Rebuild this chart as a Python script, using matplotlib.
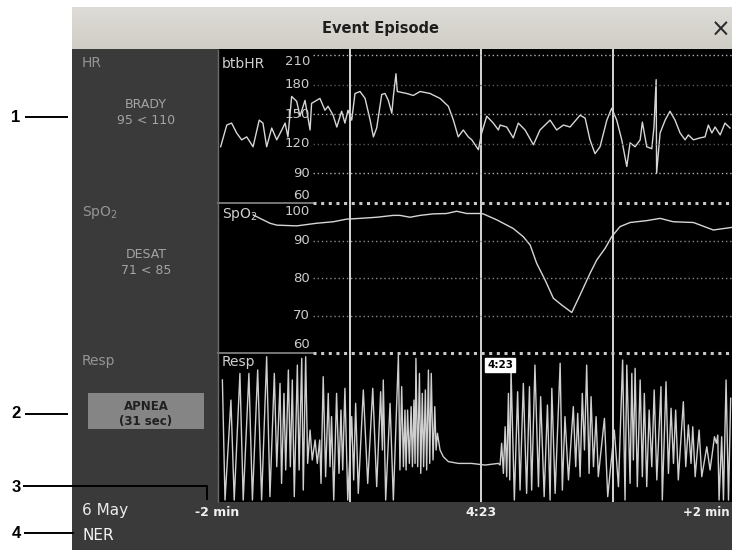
import matplotlib
matplotlib.use("Agg")
import matplotlib.pyplot as plt
from matplotlib.patches import Rectangle
from matplotlib.lines import Line2D
import matplotlib.transforms as mtransforms
import numpy as np

# ---------------- data ----------------
hr_t = [-118.8, -116.0, -113.8, -111.5, -109.2, -106.9, -104.0, -101.2, -99.5, -97.8,
        -95.5, -93.2, -90.9, -89.4, -88.1, -86.4, -84.1, -82.6, -80.3, -78.0,
        -77.3, -73.5, -71.2, -69.8, -67.5, -65.8, -63.6, -62.1, -60.7, -59.0,
        -57.5, -55.2, -52.9, -50.6, -49.1, -47.6, -45.3, -43.8, -42.3, -40.7,
        -40.0, -38.8, -38.2, -33.9, -30.9, -27.8, -23.3, -18.7, -14.9, -12.6,
        -10.4, -8.1, -5.8, -4.2, -1.2, 0.3, 2.6, 5.6, 7.9, 8.7,
        11.7, 14.7, 17.0, 20.1, 23.9, 26.9, 31.5, 34.5, 37.6, 40.6,
        45.2, 47.5, 49.7, 52.0, 54.3, 57.4, 59.6, 61.9, 64.2, 66.5,
        68.0, 70.3, 72.6, 73.6, 75.6, 77.9, 78.9, 79.9, 80.1, 81.7,
        84.0, 86.2, 88.5, 90.8, 93.1, 94.6, 96.9, 99.9, 102.2, 103.7,
        105.3, 106.8, 109.1, 111.3, 113.6]
hr_v = [117, 139, 141, 131, 124, 127, 117, 144, 141, 117,
        136, 124, 134, 141, 127, 168, 163, 148, 164, 134,
        161, 166, 154, 158, 149, 137, 153, 141, 154, 144,
        171, 173, 166, 144, 127, 136, 170, 171, 164, 151,
        168, 191, 173, 171, 169, 173, 171, 166, 158, 144,
        127, 134, 127, 124, 114, 131, 148, 141, 134, 139,
        137, 126, 141, 134, 119, 134, 144, 134, 139, 137,
        149, 146, 124, 110, 117, 144, 156, 144, 124, 97,
        121, 117, 124, 142, 117, 115, 137, 185, 90, 131,
        144, 153, 144, 131, 124, 129, 124, 126, 127, 139,
        131, 137, 129, 141, 136]

spo2_t = [-103.9, -100.8, -96.3, -93.2, -84.1, -75.0, -67.4, -61.3, -55.2, -47.6,
          -40.0, -37.0, -32.4, -27.8, -21.8, -15.7, -11.1, -6.5, -0.5, 1.0,
          7.2, 14.7, 19.3, 22.4, 25.4, 29.2, 33.0, 36.8, 41.4, 45.2,
          49.7, 52.8, 56.6, 59.6, 63.4, 68.0, 75.6, 81.7, 87.7, 96.9,
          106.0, 114.5]
spo2_v = [96.8, 95.9, 94.6, 94.1, 93.9, 94.6, 95.0, 95.7, 95.9, 96.2,
          96.7, 96.7, 96.2, 96.7, 97.1, 97.2, 97.8, 97.2, 97.2, 97.1,
          95.5, 93.2, 91.0, 88.8, 83.9, 79.5, 74.6, 72.8, 70.8, 75.5,
          81.2, 84.8, 87.9, 91.0, 93.7, 94.8, 95.3, 95.9, 95.0, 94.8,
          92.8, 93.5]

resp_t = [-118.0, -116.8, -114.1, -112.6, -110.0, -108.5, -105.9, -104.3, -101.9, -100.1,
          -97.8, -96.3, -94.3, -93.2, -91.7, -91.0, -89.9, -89.1, -87.9, -87.0,
          -86.1, -85.2, -83.8, -83.0, -81.8, -81.1, -80.0, -79.1, -78.0, -77.0,
          -75.7, -74.7, -73.6, -73.0, -72.0, -70.9, -69.7, -68.9, -68.2, -67.2,
          -65.9, -64.8, -63.9, -63.1, -62.1, -60.8, -59.0, -58.1, -57.2, -56.0,
          -53.7, -51.7, -49.4, -47.6, -45.8, -45.0, -44.6, -43.5,
          -41.5, -40.0, -37.7, -37.0, -36.2, -35.4, -34.7, -34.2, -33.5, -32.7,
          -31.9, -31.3, -30.6, -30.1, -29.7, -28.9, -28.1, -27.5, -26.8, -26.2,
          -25.4, -24.8, -24.0, -23.4, -22.7, -21.9, -21.1, -20.5, -19.9, -18.7,
          -17.2, -14.9, -10.3, -4.3, 1.8, 7.9, 8.7, 9.4, 10.2, 11.0,
          11.7, 12.5, 13.1, 13.7, 15.2, 16.7, 17.8, 19.3, 20.8, 22.1,
          23.1, 24.6, 26.2, 27.2, 28.8, 30.3, 31.5, 32.3, 33.8,
          36.1, 37.1, 38.3, 39.9, 42.1, 43.2, 44.1, 45.2, 46.2, 47.2,
          48.2, 49.3, 50.2, 51.3, 52.5, 53.5, 56.3, 57.8, 60.8, 62.7,
          64.6, 65.7, 66.5, 68.0, 68.8, 69.5, 70.3, 71.3, 72.6, 73.6,
          74.5, 75.6, 76.7, 77.9, 79.0, 80.2, 82.1, 82.7, 84.4, 85.5,
          86.7, 87.8, 88.8, 90.0, 92.3, 93.4, 94.6, 95.8, 96.6, 97.7,
          99.5, 100.7, 103.0, 104.5, 106.5, 107.4, 108.0, 108.6, 109.8, 110.6,
          111.8, 112.9, 113.9]
resp_v = [81.9, 1.3, 68.4, 1.3, 86.3, 1.3, 86.3, 1.3, 88.6, 1.3,
          97.5, 3.6, 86.3, 23.7, 79.6, 12.5, 72.9, 21.5, 88.6, 23.7,
          81.9, 3.6, 91.9, 21.5, 96.4, 8.0, 97.5, 25.9, 48.3, 28.2,
          41.6, 25.9, 41.6, 12.5, 84.1, 17.0, 72.9, 23.7, 57.3, 1.3,
          72.9, 19.2, 61.7, 21.5, 76.3, 1.3, 57.3, 14.8, 66.2, 5.8,
          75.2, 12.5, 76.3, 10.3, 74.0, 34.9, 81.9, 1.3,
          66.2, 1.3, 98.6, 21.5, 77.4, 23.7, 61.7, 21.5, 61.7, 25.9,
          64.0, 23.7, 68.4, 25.9, 96.4, 23.7, 86.3, 19.2, 72.9, 23.7,
          75.2, 21.5, 88.6, 25.9, 86.3, 28.2, 64.0, 34.9, 46.1, 34.9,
          30.4, 27.1, 25.9, 25.9, 24.8, 25.9, 24.8, 39.4, 19.2, 50.5,
          17.0, 72.9, 14.8, 88.6, 1.3, 74.0, 8.0, 79.6, 5.8, 77.4,
          8.0, 91.9, 10.3, 70.7, 3.6, 65.1, 1.3, 76.3, 5.8,
          93.1, 8.0, 57.3, 14.8, 64.0, 23.7, 59.5, 17.0, 72.9, 34.9,
          91.9, 19.2, 70.7, 23.7, 57.3, 17.0, 56.1, 3.6, 48.3, 10.3,
          95.3, 1.3, 91.9, 12.5, 86.3, 28.2, 89.7, 10.3, 81.9, 17.0,
          72.9, 10.3, 61.7, 23.7, 75.2, 14.8, 77.4, 1.3, 80.7, 19.2,
          62.9, 25.9, 61.7, 14.8, 67.3, 23.7, 51.7, 25.9, 50.5, 17.0,
          48.3, 17.0, 37.1, 21.5, 43.8, 39.4, 44.9, 1.3, 43.8, 1.3,
          81.9, 1.3, 69.6]

hr_ticks = [210, 180, 150, 120, 90, 60]
spo2_ticks = [100, 90, 80, 70, 60]
marker_t = [-60, 0, 60]
time_labels = ["-2 min", "4:23", "+2 min"]

# ---------------- layout helpers ----------------
W, H = 732, 550
fig = plt.figure(figsize=(W / 100, H / 100), dpi=100, facecolor="white")


def fx(x):
    return x / W


def fy(y):
    return 1 - y / H


def rect(x0, y0, x1, y1, color, z=-10):
    fig.add_artist(Rectangle((fx(x0), fy(y1)), (x1 - x0) / W, (y1 - y0) / H,
                             transform=fig.transFigure, facecolor=color,
                             edgecolor="none", zorder=z))


def fline(xs, ys, color="black", lw=1.2, z=5, ls="-"):
    fig.add_artist(Line2D([fx(x) for x in xs], [fy(y) for y in ys],
                          transform=fig.transFigure, color=color, lw=lw,
                          zorder=z, ls=ls, solid_capstyle="butt"))


def ftext(x, y, s, **kw):
    kw.setdefault("zorder", 6)
    fig.text(fx(x), fy(y), s, **kw)


XL, XR = 218, 732
TMIN, TMAX = -120, 114.5


def panel_axes(top, bottom, z=2):
    ax = fig.add_axes([fx(XL), fy(bottom), (XR - XL) / W, (bottom - top) / H])
    ax.set_xlim(TMIN, TMAX)
    ax.set_facecolor("none")
    ax.axis("off")
    ax.set_zorder(z)
    return ax


# ---------------- screen chrome ----------------
tax = fig.add_axes([fx(72), fy(49), (W - 72) / W, (49 - 7) / H])
grad = np.linspace(0, 1, 50).reshape(-1, 1)
tax.imshow(grad, aspect="auto", cmap=matplotlib.colors.LinearSegmentedColormap.from_list(
    "tb", ["#dedcd6", "#cfcdc6"]), extent=[0, 1, 0, 1], origin="upper")
tax.axis("off")
tax.set_zorder(0)

rect(72, 49, 218, 502, "#3a3a3a")      # left info panel
rect(72, 502, 732, 550, "#3a3a3a")     # bottom bar

ftext(380, 29, "Event Episode", ha="center", va="center", fontsize=10.5,
      fontweight="bold", color="#1e1e1e", family="DejaVu Sans")
ftext(721, 30, "\u00d7", ha="center", va="center", fontsize=17, color="#2a2a2a")

bg = fig.add_axes([fx(XL), fy(502), (XR - XL) / W, (502 - 49) / H])
bg.set_xlim(TMIN, TMAX)
bg.set_ylim(0, 1)
bg.set_facecolor("black")
bg.set_xticks([])
bg.set_yticks([])
for s in bg.spines.values():
    s.set_visible(False)
bg.set_zorder(1)
for t in marker_t:
    bg.axvline(t, color="#e6e6e6", lw=1.3)
fline([218, 218], [49, 502], color="#6a6a6a", lw=1.0, z=3)

# ---------------- panels ----------------
GX = (313 - XL) / (XR - XL)
LX = (310 - XL) / (XR - XL)
line_col = "#d6d6d6"
tick_col = "#cdcdcd"

# HR
ax_hr = panel_axes(55, 203)
ax_hr.set_ylim(60, 210)
ax_hr.plot(hr_t, hr_v, color=line_col, lw=1.0)
tr = mtransforms.blended_transform_factory(ax_hr.transAxes, ax_hr.transData)
for v in hr_ticks:
    if v == 60:
        continue
    bright = v in (210, 150, 90)
    ax_hr.axhline(v, xmin=GX, xmax=1, color="#b0b0b0" if bright else "#5a5a5a",
                  lw=1.0, ls=(0, (1, 2)), clip_on=False)
for v in hr_ticks:
    va, yy = "center", v
    if v == 210:
        va, yy = "top", 209.5
    if v == 60:
        va, yy = "bottom", 61.5
    ax_hr.text(LX, yy, str(v), transform=tr, ha="right", va=va, fontsize=9.5,
               color=tick_col, family="DejaVu Sans")
ax_hr.axhline(60, xmin=0, xmax=GX, color="#8a8a8a", lw=1.2, clip_on=False)
ax_hr.axhline(60, xmin=GX, xmax=1, color="#c8c8c8", lw=2.2, ls=(0, (1, 1.5)),
              clip_on=False)
ftext(222, 64, "btbHR", ha="left", va="center", fontsize=10, color="#cfcfcf")

# SpO2
ax_sp = panel_axes(203, 353)
ax_sp.set_ylim(60, 100)
ax_sp.plot(spo2_t, spo2_v, color=line_col, lw=1.0)
tr = mtransforms.blended_transform_factory(ax_sp.transAxes, ax_sp.transData)
for v in spo2_ticks:
    if v in (90, 80, 70):
        ax_sp.axhline(v, xmin=GX, xmax=1, color="#8a8a8a", lw=1.0,
                      ls=(0, (1, 2)), clip_on=False)
    va, yy = "center", v
    if v == 100:
        va, yy = "top", 99.4
    if v == 60:
        va, yy = "bottom", 60.5
    ax_sp.text(LX, yy, str(v), transform=tr, ha="right", va=va, fontsize=9.5,
               color=tick_col, family="DejaVu Sans")
ax_sp.axhline(60, xmin=0, xmax=GX, color="#8a8a8a", lw=1.2, clip_on=False)
ax_sp.axhline(60, xmin=GX, xmax=1, color="#c8c8c8", lw=2.2, ls=(0, (1, 1.5)),
              clip_on=False)
ftext(222, 214, "SpO$_2$", ha="left", va="center", fontsize=10, color="#cfcfcf")

# Resp
ax_rs = panel_axes(353, 502)
ax_rs.set_ylim(0, 100)
ax_rs.plot(resp_t, resp_v, color="#cfcfcf", lw=1.0)
ftext(222, 362, "Resp", ha="left", va="center", fontsize=10, color="#cfcfcf")
ftext(500, 365, "4:23", ha="center", va="center", fontsize=7.5, fontweight="bold",
      color="black", bbox=dict(facecolor="white", edgecolor="white", pad=1.2))

# ---------------- left info panel text ----------------
ftext(82, 63, "HR", ha="left", va="center", fontsize=10, color="#959595")
ftext(146, 105, "BRADY", ha="center", va="center", fontsize=9, color="#a4a4a4")
ftext(146, 120, "95 < 110", ha="center", va="center", fontsize=9, color="#a4a4a4")
ftext(82, 213, "SpO$_2$", ha="left", va="center", fontsize=10, color="#959595")
ftext(146, 254, "DESAT", ha="center", va="center", fontsize=9, color="#a4a4a4")
ftext(146, 271, "71 < 85", ha="center", va="center", fontsize=9, color="#a4a4a4")
ftext(82, 361, "Resp", ha="left", va="center", fontsize=10, color="#959595")
rect(88, 393, 204, 429, "#858585", z=-5)
ftext(146, 406, "APNEA", ha="center", va="center", fontsize=8.5,
      fontweight="bold", color="#202020")
ftext(146, 421, "(31 sec)", ha="center", va="center", fontsize=8.5,
      fontweight="bold", color="#202020")

# ---------------- bottom bar ----------------
ftext(82, 511, "6 May", ha="left", va="center", fontsize=11, color="#ececec")
ftext(82, 535, "NER", ha="left", va="center", fontsize=11, color="#f4f4f4")
ftext(195, 513, time_labels[0], ha="left", va="center", fontsize=9,
      fontweight="bold", color="#f0f0f0")
ftext(481, 513, time_labels[1], ha="center", va="center", fontsize=9,
      fontweight="bold", color="#f0f0f0")
ftext(730, 513, time_labels[2], ha="right", va="center", fontsize=8.5,
      fontweight="bold", color="#f0f0f0")

# ---------------- callout numbers ----------------
for num, yy in (("1", 117), ("2", 414)):
    ftext(16, yy, num, ha="center", va="center", fontsize=12, fontweight="bold",
          color="black", family="Liberation Sans")
    fline([25, 68], [yy, yy], lw=1.4)
ftext(16, 487, "3", ha="center", va="center", fontsize=12, fontweight="bold",
      color="black", family="Liberation Sans")
fline([23, 207, 207], [486, 486, 500], color="black", lw=1.4, z=7)
ftext(16, 533, "4", ha="center", va="center", fontsize=12, fontweight="bold",
      color="black", family="Liberation Sans")
fline([24, 74], [533, 533], lw=1.4, z=7)

fig.savefig("out.png", dpi=100, facecolor="white")
